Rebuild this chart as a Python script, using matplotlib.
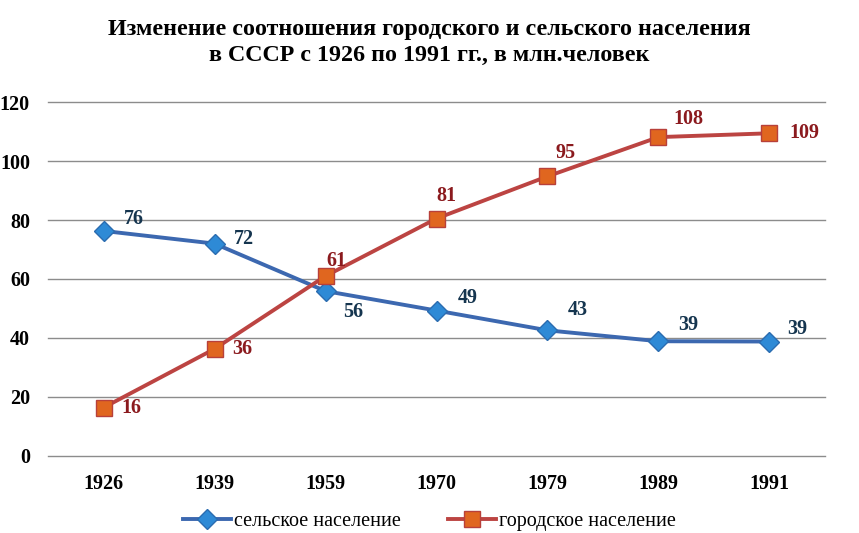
import matplotlib
matplotlib.use("Agg")
import matplotlib.pyplot as plt
import numpy as np

plt.rcParams['font.family'] = ['Liberation Serif', 'DejaVu Serif']

# data
years = ['1926', '1939', '1959', '1970', '1979', '1989', '1991']
rural = [76.3, 72.0, 55.9, 49.3, 42.6, 38.9, 38.8]
urban = [16.4, 36.3, 61.0, 80.5, 94.8, 108.1, 109.4]
rural_lbl = ['76', '72', '56', '49', '43', '39', '39']
urban_lbl = ['16', '36', '61', '81', '95', '108', '109']

# label offsets in pixels (dx, dy)
rural_off = [(30, 12), (29, 5), (28, -21), (31, 13), (30, 20), (30, 16), (28, 13)]
urban_off = [(28, 0), (28, 0), (11, 15), (10, 23), (18, 23), (30, 18), (35, 0)]

fig = plt.figure(figsize=(8.59, 5.33), dpi=100)
ax = fig.add_axes([0.0559, 0.1445, 0.9045, 0.6641])

x = np.arange(len(years))
ax.plot(x, rural, color='#3C68B0', lw=2.8, marker='D', markersize=10,
        markerfacecolor='#2E8AD6', markeredgecolor='#2B6CB0', markeredgewidth=1,
        label='сельское население', zorder=3)
ax.plot(x, urban, color='#BC4442', lw=2.8, marker='s', markersize=11,
        markerfacecolor='#E0661F', markeredgecolor='#B8403A', markeredgewidth=1,
        label='городское население', zorder=3)

for i in range(len(x)):
    ax.annotate(rural_lbl[i], (x[i], rural[i]), xytext=(rural_off[i][0] * 0.72, rural_off[i][1] * 0.72),
                textcoords='offset points', ha='center', va='center',
                fontsize=14.5, fontweight='bold', color='#15354F')
    ax.annotate(urban_lbl[i], (x[i], urban[i]), xytext=(urban_off[i][0] * 0.72, urban_off[i][1] * 0.72),
                textcoords='offset points', ha='center', va='center',
                fontsize=14.5, fontweight='bold', color='#8B1A1E')

ax.set_xlim(-0.5, 6.5)
ax.set_ylim(0, 120)
ax.set_yticks(range(0, 121, 20))
ax.set_xticks(x)
ax.set_xticklabels(years)
ax.tick_params(length=0, labelsize=14.5, pad=13)
ax.tick_params(axis='y', pad=13)
for t in ax.get_xticklabels() + ax.get_yticklabels():
    t.set_fontweight('bold')
ax.grid(axis='y', color='#8C8C8C', lw=1)
for gl in ax.get_ygridlines():
    gl.set_clip_on(False)
ax.set_axisbelow(True)
for s in ax.spines.values():
    s.set_visible(False)

fig.text(0.5, 0.921, 'Изменение соотношения городского и сельского населения\nв СССР с 1926 по 1991 гг., в млн.человек',
         ha='center', va='center', fontsize=17.3, fontweight='bold', linespacing=1.3)

fig.legend(loc='center', bbox_to_anchor=(0.5, 0.022), ncol=2, frameon=False,
           fontsize=14.5, handlelength=2.4, columnspacing=2.3, handletextpad=0.15)

fig.savefig('out.png', dpi=100)
